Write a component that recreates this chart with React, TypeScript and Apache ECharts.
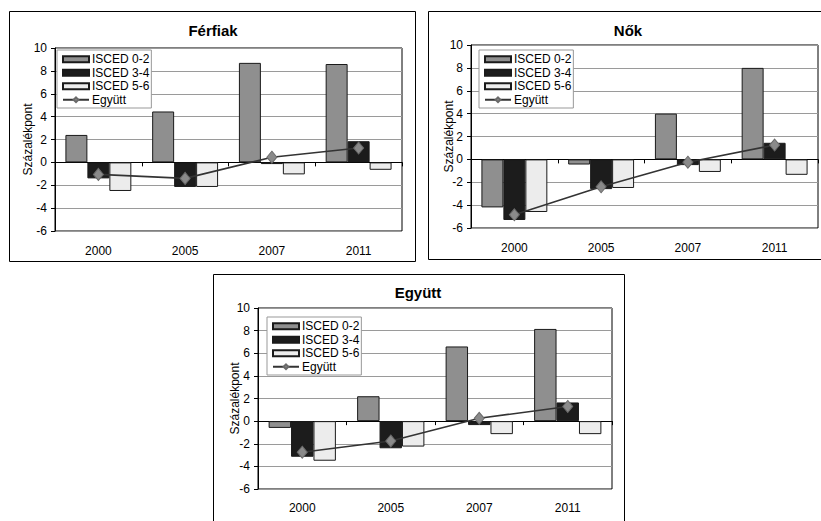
import React, { useEffect, useRef } from "react";
import * as echarts from "echarts";

const categories = ["2000", "2005", "2007", "2011"];
const seriesNames = ["ISCED 0-2", "ISCED 3-4", "ISCED 5-6", "Együtt"];
const chartTitles = ["Férfiak", "Nők", "Együtt"];
const yAxisName = "Százalékpont";

const ferfiak0_2 = [2.4, 4.45, 8.7, 8.6];
const ferfiak3_4 = [-1.4, -2.15, -0.15, 1.85];
const ferfiak5_6 = [-2.5, -2.15, -1.05, -0.65];
const ferfiakEgyutt = [-1.05, -1.4, 0.45, 1.25];

const nok0_2 = [-4.2, -0.45, 4.0, 8.0];
const nok3_4 = [-5.3, -2.6, -0.5, 1.45];
const nok5_6 = [-4.6, -2.5, -1.1, -1.35];
const nokEgyutt = [-4.85, -2.4, -0.25, 1.25];

const egyutt0_2 = [-0.6, 2.2, 6.6, 8.15];
const egyutt3_4 = [-3.15, -2.4, -0.35, 1.65];
const egyutt5_6 = [-3.5, -2.25, -1.15, -1.15];
const egyuttEgyutt = [-2.75, -1.75, 0.25, 1.3];

const FONT = "'Liberation Sans', Arial, sans-serif";

export default function App() {
  const ref = useRef<HTMLDivElement>(null);

  useEffect(() => {
    if (!ref.current) return;
    const chart = echarts.init(ref.current, undefined, { renderer: "svg" });

    const data = [
      [ferfiak0_2, ferfiak3_4, ferfiak5_6, ferfiakEgyutt],
      [nok0_2, nok3_4, nok5_6, nokEgyutt],
      [egyutt0_2, egyutt3_4, egyutt5_6, egyuttEgyutt],
    ];

    const grids = [
      { left: 55, top: 48, width: 347, height: 183 },
      { left: 471, top: 45, width: 347, height: 183 },
      { left: 258, top: 308, width: 354, height: 181 },
    ];
    const boxes = [
      { x: 9.5, y: 11.5, w: 406, h: 250 },
      { x: 428.5, y: 11.5, w: 400, h: 248 },
      { x: 213.5, y: 274.5, w: 411, h: 260 },
    ];
    const titlePos = [
      { x: 213, y: 30 },
      { x: 628, y: 30 },
      { x: 418, y: 292 },
    ];
    const nameGaps = [21, 16, 17];
    const labelMargins = [14, 14, 13];
    const legendPos = [
      { left: 57, top: 50 },
      { left: 479, top: 50 },
      { left: 267, top: 317 },
    ];

    const barColors = ["#8f8f8f", "#1c1c1c", "#ececec"];

    const xAxes: any[] = [];
    const yAxes: any[] = [];
    const series: any[] = [];
    const legends: any[] = [];

    grids.forEach((g, i) => {
      xAxes.push({
        type: "category",
        gridIndex: i,
        data: categories,
        position: "bottom",
        axisLine: { show: false, onZero: false },
        axisTick: { show: false },
        axisLabel: { color: "#000", fontFamily: FONT, fontSize: 12, margin: labelMargins[i] },
        splitLine: { show: false },
      });
      xAxes.push({
        type: "category",
        gridIndex: i,
        data: categories,
        position: "top",
        axisLine: { show: true, onZero: true, lineStyle: { color: "#000", width: 1 } },
        axisTick: { show: true, inside: true, length: 4, lineStyle: { color: "#000" } },
        axisLabel: { show: false },
        splitLine: { show: false },
      });
      yAxes.push({
        type: "value",
        gridIndex: i,
        min: -6,
        max: 10,
        interval: 2,
        name: yAxisName,
        nameLocation: "middle",
        nameGap: nameGaps[i],
        nameMoveOverlap: false,
        nameTextStyle: { color: "#000", fontFamily: FONT, fontSize: 12 },
        axisLine: { show: true, lineStyle: { color: "#000" } },
        axisTick: { show: true, length: 4, lineStyle: { color: "#000" } },
        axisLabel: { color: "#000", fontFamily: FONT, fontSize: 12, margin: 8 },
        splitLine: { show: true, lineStyle: { color: "#9a9a9a", width: 1 } },
      });
      for (let k = 0; k < 3; k++) {
        series.push({
          type: "bar",
          name: seriesNames[k],
          xAxisIndex: i * 2,
          yAxisIndex: i,
          data: data[i][k],
          barGap: "0%",
          barCategoryGap: "24%",
          itemStyle: { color: barColors[k], borderColor: "#1a1a1a", borderWidth: 1 },
          z: 2,
        });
      }
      series.push({
        type: "line",
        name: seriesNames[3],
        xAxisIndex: i * 2,
        yAxisIndex: i,
        data: data[i][3],
        symbol: "diamond",
        symbolSize: [10, 12],
        lineStyle: { color: "#333", width: 1.6 },
        itemStyle: { color: "#8a8a8a", borderColor: "#6a6a6a", borderWidth: 1 },
        z: 5,
      });
      legends.push({
        left: legendPos[i].left,
        top: legendPos[i].top,
        orient: "vertical",
        itemWidth: 26,
        itemHeight: 6,
        itemGap: 1,
        padding: [3, 2, 2, 5],
        backgroundColor: "#fff",
        borderColor: "#999",
        borderWidth: 1,
        borderRadius: 0,
        textStyle: { color: "#000", fontFamily: FONT, fontSize: 12, lineHeight: 12.5, padding: [0, 0, 0, -2] },
        selectedMode: false,
        data: [
          { name: seriesNames[0], icon: "rect" },
          { name: seriesNames[1], icon: "rect" },
          { name: seriesNames[2], icon: "rect" },
          { name: seriesNames[3] },
        ],
        z: 10,
      });
    });

    const graphics: any[] = [];
    boxes.forEach((b) => {
      graphics.push({
        type: "rect",
        shape: { x: b.x, y: b.y, width: b.w, height: b.h },
        style: { fill: "none", stroke: "#000", lineWidth: 1 },
        silent: true,
        z: 0,
      });
    });
    titlePos.forEach((t, i) => {
      graphics.push({
        type: "text",
        x: t.x,
        y: t.y,
        style: {
          text: chartTitles[i],
          fill: "#000",
          font: `bold 15px ${FONT}`,
          align: "center",
          verticalAlign: "middle",
        },
        z: 10,
      });
    });

    chart.setOption({
      animation: false,
      backgroundColor: "#fff",
      grid: grids.map((g) => ({
        ...g,
        show: true,
        borderColor: "#000",
        borderWidth: 1,
        backgroundColor: "transparent",
        containLabel: false,
      })),
      xAxis: xAxes,
      yAxis: yAxes,
      legend: legends,
      series,
      graphic: graphics,
    });

    return () => chart.dispose();
  }, []);

  return (
    <div
      ref={ref}
      style={{ position: "absolute", left: 0, top: 0, width: 821, height: 521 }}
    />
  );
}
